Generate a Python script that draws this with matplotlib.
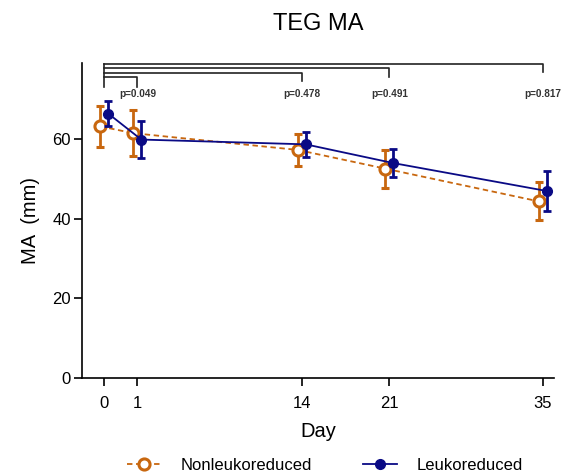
import numpy as np
import matplotlib
matplotlib.use("Agg")
import matplotlib.pyplot as plt
from matplotlib.transforms import offset_copy

plt.rcParams['font.family'] = ['Liberation Sans', 'DejaVu Sans']

# data
days = [0, 1, 14, 21, 35]
non_mean = [63.1, 61.4, 57.2, 52.5, 44.3]
non_sd = [5.1, 5.8, 4.1, 4.8, 4.8]
leuko_mean = [66.3, 59.8, 58.6, 53.9, 46.9]
leuko_sd = [3.2, 4.7, 3.2, 3.6, 5.0]
p_days = [1, 14, 21, 35]
p_labels = ["p=0.049", "p=0.478", "p=0.491", "p=0.817"]

orange = "#C8670F"
navy = "#0A0A85"

# uneven spacing of the day axis (piecewise)
knot_days = [-1, 0, 1, 14, 21, 35, 37]
knot_pos = [-10.7, 22.3, 55.3, 219.7, 307.3, 460.7, 482.6]


def fwd(x):
    return np.interp(x, knot_days, knot_pos)


def inv(y):
    return np.interp(y, knot_pos, knot_days)


fig = plt.figure(figsize=(5.62, 4.73), dpi=100)
ax = fig.add_axes([82 / 562, 1 - 378 / 473, 472 / 562, 315 / 473])
ax.set_xscale("function", functions=(fwd, inv))

tr_non = offset_copy(ax.transData, fig=fig, x=-4, y=0, units="dots")
tr_leu = offset_copy(ax.transData, fig=fig, x=4, y=0, units="dots")

eb1 = ax.errorbar(days, non_mean, yerr=non_sd, transform=tr_non, color=orange,
                  ls=(0, (3, 2)), lw=1.3, marker="o", ms=8, mfc="white", mec=orange,
                  mew=2.2, elinewidth=2, capsize=3, capthick=2, zorder=3)
eb2 = ax.errorbar(days, leuko_mean, yerr=leuko_sd, transform=tr_leu, color=navy,
                  ls="-", lw=1.3, marker="o", ms=7, mfc=navy, mec=navy,
                  elinewidth=2, capsize=3, capthick=2, zorder=4)

# significance brackets from day 0
levels = [75.4, 76.6, 77.7, 78.8]
drops = [73.1, 74.4, 75.6, 76.8]
bk = "#222222"
ax.plot([0, 0], [min(drops), max(levels)], color=bk, lw=1.2, clip_on=False)
for d, lev, dr, lab in zip(p_days, levels, drops, p_labels):
    ax.plot([0, d, d], [lev, lev, dr], color=bk, lw=1.2, clip_on=False)
    ax.text(d, 71.2, lab, ha="center", va="center", fontsize=7.2,
            fontweight="bold", color="#333333")

ax.set_xlim(-0.676, 36.03)
ax.set_ylim(0, 79)
ax.set_xticks(days)
ax.set_xticklabels([str(d) for d in days])
ax.set_yticks([0, 20, 40, 60])

for s in ["top", "right"]:
    ax.spines[s].set_visible(False)
for s in ["left", "bottom"]:
    ax.spines[s].set_linewidth(1.2)
ax.tick_params(axis="x", length=6, width=1.2, pad=7, labelsize=12)
ax.tick_params(axis="y", length=6, width=1.2, pad=2, labelsize=12)

ax.set_xlabel("Day", fontsize=14.5, labelpad=8)
ax.set_ylabel("MA  (mm)", fontsize=14.5, labelpad=9)
ax.set_title("TEG MA", fontsize=17, pad=24)

ax.legend([eb1.lines[0], eb2.lines[0]], ["Nonleukoreduced", "Leukoreduced"],
          loc="center", bbox_to_anchor=(325 / 562, 1 - 465.7 / 473),
          bbox_transform=fig.transFigure, ncol=2, frameon=False, fontsize=12,
          handlelength=2, handletextpad=1.2, columnspacing=3.1)

fig.savefig("out.png", dpi=100)
